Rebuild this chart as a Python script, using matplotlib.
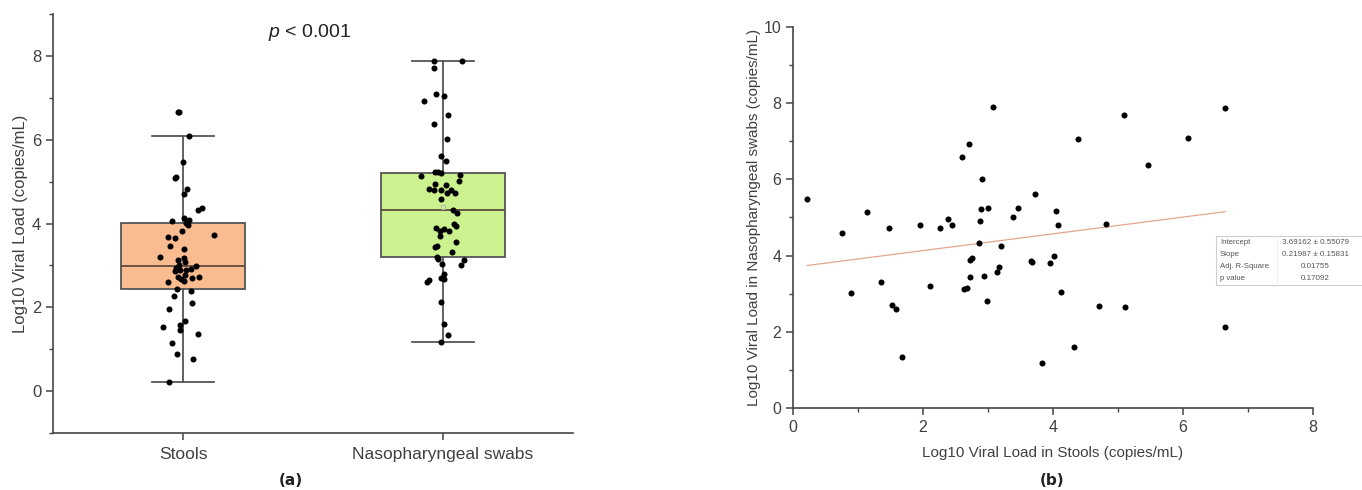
import numpy as np
import matplotlib
matplotlib.use("Agg")
import matplotlib.pyplot as plt
from matplotlib.patches import Rectangle
from matplotlib.ticker import MultipleLocator

plt.rcParams['font.family'] = ['Liberation Sans', 'DejaVu Sans']
plt.rcParams['mathtext.fontset'] = 'custom'
plt.rcParams['mathtext.it'] = 'Liberation Sans:italic'
plt.rcParams['mathtext.rm'] = 'Liberation Sans'

# log10 viral load per patient: stools (x) and nasopharyngeal swabs (y)
stools = [0.22, 0.76, 0.89, 1.14, 1.36, 1.47, 1.53, 1.58, 1.67, 1.96,
          2.11, 2.26, 2.38, 2.44, 2.60, 2.71, 2.63, 2.67, 2.72, 2.73,
          2.76, 2.86, 2.88, 2.89, 2.91, 2.94, 2.99, 3.00, 3.08, 3.14,
          3.17, 3.20, 3.39, 3.46, 3.66, 3.67, 3.72, 3.83, 3.96, 4.01,
          4.05, 4.08, 4.13, 4.33, 4.38, 4.71, 4.82, 5.09, 5.11, 5.46,
          6.08, 6.65, 6.65]
swabs = [5.49, 4.59, 3.01, 5.14, 3.31, 4.72, 2.71, 2.61, 1.33, 4.81,
         3.20, 4.73, 4.95, 4.81, 6.60, 6.92, 3.13, 3.15, 3.43, 3.89,
         3.94, 4.32, 4.91, 5.21, 6.02, 3.47, 2.80, 5.24, 7.89, 3.56,
         3.69, 4.26, 5.02, 5.24, 3.87, 3.83, 5.62, 1.18, 3.81, 3.98,
         5.16, 4.80, 3.04, 1.59, 7.05, 2.68, 4.82, 7.70, 2.65, 6.38,
         7.09, 7.87, 2.13]

# horizontal jitter of the dots in panel (a), in category units
stools_jitter = [-0.054, 0.039, -0.023, -0.042, 0.058, -0.012, -0.077, -0.012, 0.008, -0.054,
                 0.035, -0.035, 0.031, -0.023, -0.058, 0.035, 0.004, -0.008, 0.062, -0.019,
                 0.008, -0.031, 0.012, -0.012, 0.031, -0.027, 0.05, -0.015, 0.008, -0.019,
                 0.004, -0.089, 0.004, -0.05, -0.031, -0.058, 0.12, -0.004, 0.019, 0.012,
                 -0.042, 0.023, 0.004, 0.058, 0.073, 0.004, 0.015, -0.031, -0.027, 0.0,
                 0.023, -0.019, -0.015]
swabs_jitter = [0.012, -0.008, 0.069, -0.085, 0.035, 0.015, -0.008, -0.062, 0.019, -0.035,
                -0.023, 0.046, -0.031, -0.008, 0.019, -0.073, 0.081, -0.019, -0.031, -0.027,
                0.05, 0.039, 0.012, -0.008, 0.015, -0.023, 0.004, -0.031, 0.073, 0.05,
                -0.012, 0.054, 0.062, -0.019, 0.004, -0.012, -0.008, -0.008, 0.023, 0.042,
                0.066, 0.031, -0.004, 0.004, 0.004, 0.004, -0.054, -0.035, -0.054, -0.035,
                -0.027, -0.035, -0.008]

groups = ['Stools', 'Nasopharyngeal swabs']
box_colors = ['#f9bb90', '#ccf290']

# linear fit reported in the figure
intercept, intercept_err = 3.69162, 0.55079
slope, slope_err = 0.21987, 0.15831
adj_r2 = 0.01755
p_fit = 0.17092

W, H = 1362, 490
fig = plt.figure(figsize=(W / 100, H / 100), dpi=100)

axc = '#454545'
txc = '#404040'

def style_axes(ax):
    for s in ['top', 'right']:
        ax.spines[s].set_visible(False)
    for s in ['left', 'bottom']:
        ax.spines[s].set_color(axc)
        ax.spines[s].set_linewidth(1.2)
    ax.tick_params(which='major', direction='out', length=5, width=1.1, color=axc, labelcolor=txc)
    ax.tick_params(which='minor', direction='out', length=3, width=1.0, color=axc)

# ---- panel (a): box plot with jittered points
ax1 = fig.add_axes([53 / W, (H - 433) / H, 520 / W, 419 / H])
bp = ax1.boxplot([stools, swabs], positions=[0, 1], widths=0.48, patch_artist=True,
                 showfliers=False, showmeans=True, capwidths=0.24,
                 medianprops=dict(color='#5e4a3e', lw=1.3),
                 whiskerprops=dict(color='#555555', lw=1.3),
                 capprops=dict(color='#555555', lw=1.3),
                 meanprops=dict(marker='s', markersize=3.5, markerfacecolor='none',
                                markeredgecolor='#b0b0b0', markeredgewidth=0.6))
for patch, c in zip(bp['boxes'], box_colors):
    patch.set_facecolor(c)
    patch.set_edgecolor('#555555')
    patch.set_linewidth(1.3)

ax1.scatter(np.array(stools_jitter), stools, s=19, color='black', zorder=3, linewidths=0)
ax1.scatter(1 + np.array(swabs_jitter), swabs, s=19, color='black', zorder=3, linewidths=0)

ax1.set_xlim(-0.5, 1.5)
ax1.set_ylim(-1, 9)
ax1.set_xticks([0, 1])
ax1.set_xticklabels(groups, fontsize=12.5)
ax1.yaxis.set_minor_locator(MultipleLocator(1))
ax1.set_yticks([0, 2, 4, 6, 8])
style_axes(ax1)
ax1.tick_params(axis='y', labelsize=12)
ax1.tick_params(axis='x', pad=5)
ax1.set_ylabel('Log10 Viral Load (copies/mL)', fontsize=12, color=txc, labelpad=3)
ax1.text(0.494, 0.957, r'$\mathit{p}$ < 0.001', transform=ax1.transAxes,
         ha='center', va='center', fontsize=14, color='#222222')

# ---- panel (b): scatter with fitted line
ax2 = fig.add_axes([793 / W, (H - 408) / H, 520 / W, 381 / H])
ax2.scatter(stools, swabs, s=19, color='black', zorder=3, linewidths=0)
xfit = np.array([min(stools), max(stools)])
ax2.plot(xfit, intercept + slope * xfit, color='#e2a78e', lw=0.9, zorder=2)
ax2.set_xlim(0, 8)
ax2.set_ylim(0, 10)
ax2.xaxis.set_major_locator(MultipleLocator(2))
ax2.xaxis.set_minor_locator(MultipleLocator(1))
ax2.yaxis.set_major_locator(MultipleLocator(2))
ax2.yaxis.set_minor_locator(MultipleLocator(1))
style_axes(ax2)
ax2.tick_params(labelsize=11.5)
ax2.set_xlabel('Log10 Viral Load in Stools (copies/mL)', fontsize=11, color=txc, labelpad=8)
ax2.set_ylabel('Log10 Viral Load in Nasopharyngeal swabs (copies/mL)', fontsize=11,
               color=txc, labelpad=2)

# fit statistics box
def fx(px):
    return px / W

def fy(py):
    return 1 - py / H

fig.patches.append(Rectangle((fx(1216), fy(285)), fx(200), 49 / H, transform=fig.transFigure,
                             facecolor='white', edgecolor='#cfcfcf', lw=0.8, zorder=5))
fig.lines.append(plt.Line2D([fx(1277), fx(1277)], [fy(285), fy(236)],
                            transform=fig.transFigure, color='#ececec', lw=0.6, zorder=6))
rows = [('Intercept', f'{intercept:.5f} \u00b1 {intercept_err:.5f}'),
        ('Slope', f'{slope:.5f} \u00b1 {slope_err:.5f}'),
        ('Adj. R-Square', f'{adj_r2:.5f}'),
        ('p value', f'{p_fit:.5f}')]
for i, (lab, val) in enumerate(rows):
    yy = fy(242.5 + i * 12)
    fig.text(fx(1220), yy, lab, fontsize=5.6, color='#555555', ha='left', va='center', zorder=7)
    fig.text(fx(1315), yy, val, fontsize=5.8, color='#555555', ha='center', va='center', zorder=7)

# panel captions
fig.text(fx(291), fy(480), '(a)', fontsize=11, fontweight='bold', family='DejaVu Sans',
         ha='center', va='center', color='#222222')
fig.text(fx(1052), fy(480), '(b)', fontsize=11, fontweight='bold', family='DejaVu Sans',
         ha='center', va='center', color='#222222')

fig.savefig('out.png', dpi=100)
